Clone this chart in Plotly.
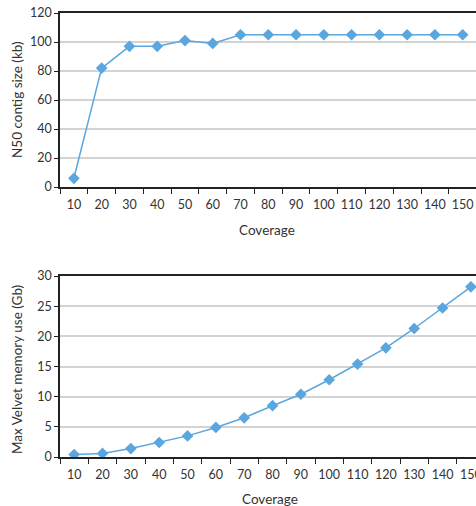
import plotly.graph_objects as go

coverage = ["10", "20", "30", "40", "50", "60", "70", "80", "90", "100", "110", "120", "130", "140", "150"]
n50_kb = [6, 82, 97, 97, 101, 99, 105, 105, 105, 105, 105, 105, 105, 105, 105]
memory_gb = [0.4, 0.6, 1.4, 2.4, 3.5, 4.9, 6.5, 8.5, 10.4, 12.8, 15.4, 18.1, 21.3, 24.7, 28.2]

W, H = 476, 506
blue = "#5aa6df"
txt = "#333333"
font_family = "Lato, 'Noto Sans', sans-serif"
LEFT = 60

fig = go.Figure()
fig.add_trace(go.Scatter(x=coverage, y=n50_kb, mode="lines+markers", xaxis="x", yaxis="y",
                         line=dict(color=blue, width=1.5),
                         marker=dict(symbol="diamond", size=9, color=blue),
                         showlegend=False, hoverinfo="skip"))
fig.add_trace(go.Scatter(x=coverage, y=memory_gb, mode="lines+markers", xaxis="x2", yaxis="y2",
                         line=dict(color=blue, width=1.5),
                         marker=dict(symbol="diamond", size=9, color=blue),
                         showlegend=False, hoverinfo="skip"))

def ypix(p):
    return 1 - p / H

axis_common = dict(showline=True, linecolor="#222222", linewidth=1.5,
                   tickfont=dict(size=12.5, color=txt, family=font_family),
                   automargin=False, ticklabeloverflow="allow")

fig.update_layout(
    width=W, height=H,
    margin=dict(l=LEFT, r=0, t=0, b=0),
    paper_bgcolor="white", plot_bgcolor="white",
    font=dict(family=font_family, color=txt),
    xaxis=dict(axis_common, type="category", domain=[0, 1], anchor="y",
               range=[-0.5, 14.48], tickson="boundaries", ticks="outside", ticklen=5,
               tickcolor="#222222", showgrid=False, mirror=True, tickangle=0,
               ticklabelstandoff=5),
    yaxis=dict(axis_common, domain=[ypix(187), ypix(13)], anchor="x", range=[0, 120],
               dtick=20, ticks="outside", ticklen=4, tickcolor="#222222",
               showgrid=True, gridcolor="#d3d3d3", gridwidth=1.5, zeroline=False),
    xaxis2=dict(axis_common, type="category", domain=[0, 1], anchor="y2",
                range=[-0.5, 14.18], tickson="boundaries", ticks="outside", ticklen=5,
                tickcolor="#222222", showgrid=False, mirror=True, tickangle=0,
                ticklabelstandoff=5),
    yaxis2=dict(axis_common, domain=[ypix(457), ypix(276)], anchor="x2", range=[0, 30],
                dtick=5, ticks="outside", ticklen=4, tickcolor="#222222",
                showgrid=True, gridcolor="#d3d3d3", gridwidth=1.5, zeroline=False),
)

def ann(text, x, y, angle=0):
    fig.add_annotation(text=text, xref="paper", yref="paper",
                       x=(x - LEFT) / (W - LEFT), y=ypix(y), showarrow=False,
                       textangle=angle, xanchor="center", yanchor="middle",
                       font=dict(size=13.5, color=txt, family=font_family))

ann("N50 contig size (kb)", 17, 100, -90)
ann("Coverage", 267, 230)
ann("Max Velvet memory use (Gb)", 17, 370, -90)
ann("Coverage", 270, 499)

fig.write_html("out.html", config={"displayModeBar": False},
               post_script="document.body.style.margin='0';")
